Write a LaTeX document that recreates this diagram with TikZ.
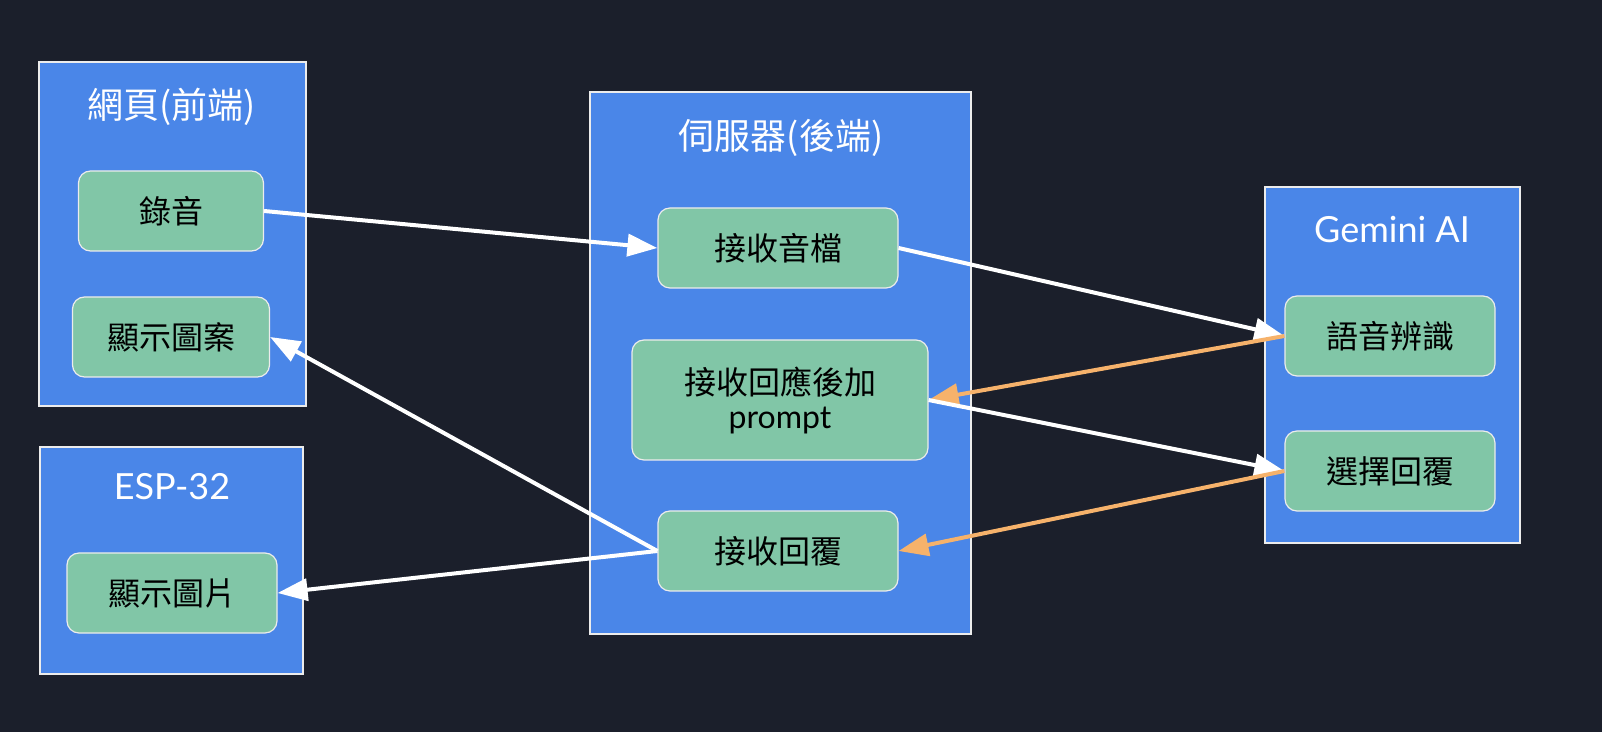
\documentclass[tikz,border=0pt]{standalone}
\usepackage{fontspec}
\setmainfont{Noto Sans CJK TC}
\newfontfamily\lat{Lato}
\usetikzlibrary{arrows.meta}
\definecolor{bg}{HTML}{1B1F2B}
\definecolor{clu}{HTML}{4A86E8}
\definecolor{nd}{HTML}{81C6A7}
\definecolor{org}{HTML}{F6B26B}
\begin{document}
\begin{tikzpicture}[x=0.5pt,y=-0.5pt,
 cl/.style={draw=white!85!gray,line width=0.6pt,fill=clu},
 tt/.style={text=white,font=\fontsize{18}{20}\selectfont},
 n/.style={draw=white!85!gray,line width=0.6pt,fill=nd,rounded corners=6pt,minimum height=40pt,font=\fontsize{16}{19}\selectfont,align=center,inner sep=0pt},
 w/.style={draw=white,line width=2pt,-{Triangle[length=15pt,width=11pt]}},
 o/.style={draw=org,line width=2pt,-{Triangle[length=15pt,width=11pt]}}]
\fill[bg] (0,0) rectangle (1602,732);
\useasboundingbox (0,0) rectangle (1602,732);
\draw[cl] (39,62) rectangle (306,406);
\draw[cl] (40,447) rectangle (303,674);
\draw[cl] (590,92) rectangle (971,634);
\draw[cl] (1265,187) rectangle (1520,543);
\node[tt] (t1) at (172,107) {網頁(前端)};
\node[tt] (t2) at (172,487) {\lat ESP-32};
\node[tt] (t3) at (781,138) {伺服器(後端)};
\node[tt] (t4) at (1392,230) {\lat Gemini AI};
\node[n,minimum width=92.5pt] (a) at (171,211) {錄音};
\node[n,minimum width=98.5pt] (b) at (171,337) {顯示圖案};
\node[n,minimum width=105pt] (c) at (172,593) {顯示圖片};
\node[n,minimum width=120pt] (d) at (778,248) {接收音檔};
\node[n,minimum width=148pt,minimum height=60pt] (e) at (780,400) {接收回應後加\\[-2pt]{\lat prompt}};
\node[n,minimum width=120pt] (f) at (778,551) {接收回覆};
\node[n,minimum width=105pt] (g) at (1390,336) {語音辨識};
\node[n,minimum width=105pt] (h) at (1390,471) {選擇回覆};
\draw[w] (a.east) -- (d.west);
\draw[w] (d.east) -- (g.west);
\draw[o] (g.west) -- (e.east);
\draw[w] (e.east) -- (h.west);
\draw[o] (h.west) -- (f.east);
\draw[w] (f.west) -- (b.east);
\draw[w] (f.west) -- (c.east);
\end{tikzpicture}
\end{document}
